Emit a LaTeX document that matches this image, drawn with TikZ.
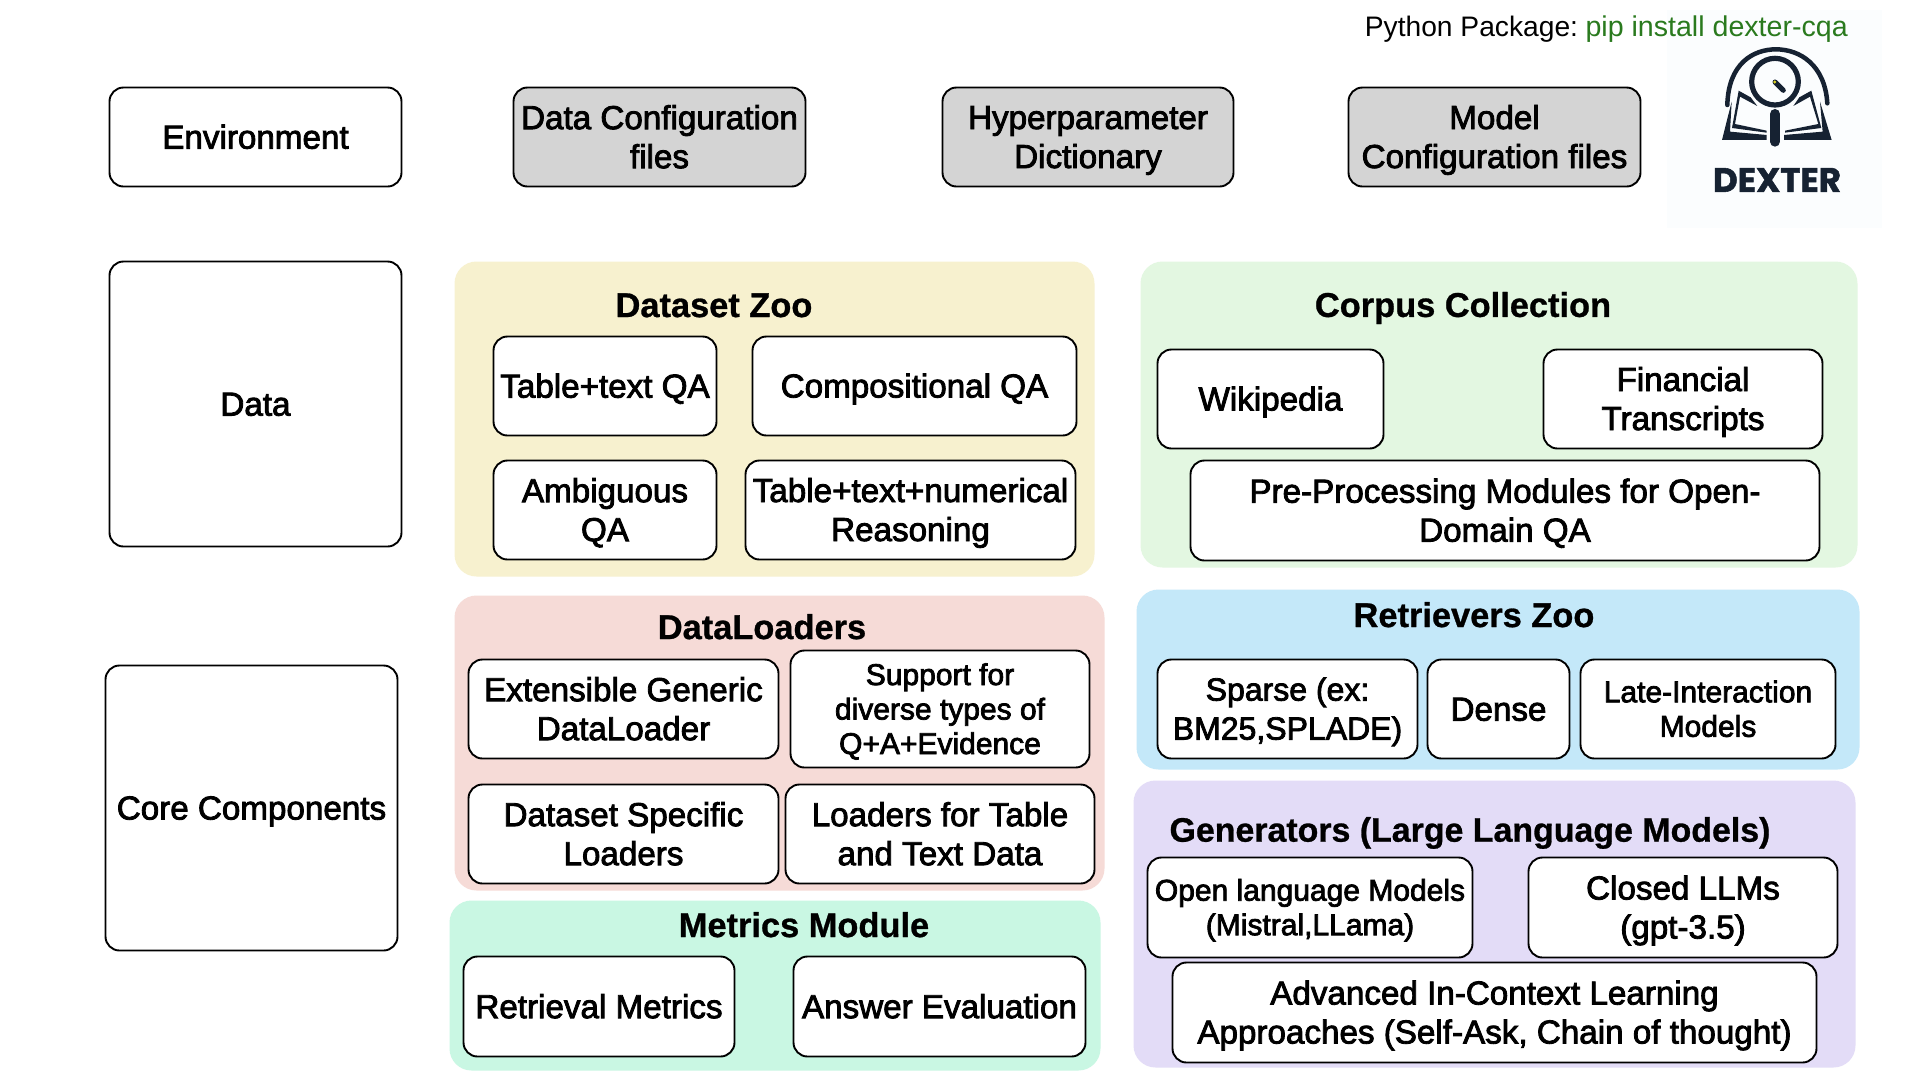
\documentclass[tikz,border=0pt]{standalone}
\usepackage{fontspec}
\setmainfont{Liberation Sans}
\newfontfamily\medf[FakeBold=2.5]{Liberation Sans}
\newfontfamily\titlef[FakeBold=0.8]{Liberation Sans Bold}
\newfontfamily\logof[FakeBold=1.5]{Poppins Bold}
\definecolor{navy}{HTML}{162232}
\definecolor{cyellow}{HTML}{F7F1CF}
\definecolor{cred}{HTML}{F6DBD7}
\definecolor{cgreen}{HTML}{E3F7E1}
\definecolor{cblue}{HTML}{C4E8F9}
\definecolor{cpurple}{HTML}{E3DCF7}
\definecolor{cmint}{HTML}{C9F7E3}
\definecolor{cgrey}{HTML}{D4D4D4}
\definecolor{pipgreen}{HTML}{2A7A1E}
\definecolor{logobg}{HTML}{FBFDFE}
\newcommand{\st}{\rule[-0.2em]{0pt}{1.1em}}
\tikzset{
 boxed/.style={draw=black,line width=1.9pt,rounded corners=14pt,fill=white,align=center,inner sep=0pt,
   font=\medf\fontsize{33.2}{39}\selectfont},
 greybox/.style={boxed,fill=cgrey},
 smallbox/.style={boxed,font=\medf\fontsize{30}{34.5}\selectfont},
 tightbox/.style={boxed,font=\medf\fontsize{32}{39}\selectfont},
 panel/.style={rounded corners=22pt,inner sep=0pt},
 paneltitle/.style={inner sep=0pt,font=\titlef\fontsize{34.4}{39}\selectfont},
}
% name, x1, y1, x2, y2, style, text
\newcommand{\rbox}[7]{%
  \pgfmathsetmacro\cxx{(#2+#4)/2}\pgfmathsetmacro\cyy{(#3+#5)/2}%
  \pgfmathsetmacro\wdd{#4-#2-1}\pgfmathsetmacro\htt{#5-#3-1}%
  \node[#6,minimum width=\wdd pt,minimum height=\htt pt] (#1) at (\cxx,\cyy) {\st #7\st};}
\begin{document}
\begin{tikzpicture}[x=1pt,y=-1pt]
\useasboundingbox (0,0) rectangle (1920,1080);
\fill[white] (0,0) rectangle (1920,1080);
% logo background
\node[fill=logobg,inner sep=0pt,minimum width=215pt,minimum height=218pt] (logobox) at (1774.5,119) {};
% panels
\rbox{pzoo}{454}{261}{1095}{577}{panel,fill=cyellow}{}
\rbox{pcorpus}{1140}{261}{1858}{568}{panel,fill=cgreen}{}
\rbox{ploader}{454}{595}{1105}{891}{panel,fill=cred}{}
\rbox{pret}{1136}{589}{1860}{770}{panel,fill=cblue}{}
\rbox{pgen}{1133}{780}{1856}{1068}{panel,fill=cpurple}{}
\rbox{pmet}{449}{900}{1101}{1071}{panel,fill=cmint}{}
% top row
\rbox{env}{109}{87}{402}{187}{boxed}{Environment}
\rbox{dcf}{513}{87}{806}{187}{greybox}{Data Configuration\\files}
\rbox{hyp}{942}{87}{1234}{187}{greybox}{Hyperparameter\\Dictionary}
\rbox{mcf}{1348}{87}{1641}{187}{greybox}{Model\\Configuration files}
% left
\rbox{data}{109}{261}{402}{547}{boxed}{Data}
\rbox{core}{105}{665}{398}{951}{boxed}{Core Components}
% titles
\node[paneltitle] (tzoo) at (714,305) {\st Dataset Zoo};
\node[paneltitle] (tcorpus) at (1463,305) {\st Corpus Collection};
\node[paneltitle] (tloader) at (762,627) {\st DataLoaders};
\node[paneltitle] (tret) at (1474,615) {\st Retrievers Zoo};
\node[paneltitle,font=\titlef\fontsize{33.9}{39}\selectfont] (tgen) at (1470,830) {\st Generators (Large Language Models)};
\node[paneltitle] (tmet) at (804,925) {\st Metrics Module};
% dataset zoo
\rbox{a1}{493}{336}{717}{436}{boxed}{Table+text QA}
\rbox{a2}{752}{336}{1077}{436}{boxed}{Compositional QA}
\rbox{a3}{493}{460}{717}{560}{boxed}{Ambiguous\\QA}
\rbox{a4}{745}{460}{1076}{560}{boxed}{Table+text+numerical\\Reasoning}
% corpus
\rbox{b1}{1157}{349}{1384}{449}{boxed}{Wikipedia}
\rbox{b2}{1543}{349}{1823}{449}{boxed}{Financial\\Transcripts}
\rbox{b3}{1190}{460}{1820}{561}{boxed}{Pre-Processing Modules for Open-\\Domain QA}
% dataloaders
\rbox{c1}{468}{659}{779}{759}{boxed}{Extensible Generic\\DataLoader}
\rbox{c2}{790}{650}{1090}{768}{smallbox}{Support for\\diverse types of\\Q+A+Evidence}
\rbox{c3}{468}{784}{779}{884}{boxed}{Dataset Specific\\Loaders}
\rbox{c4}{785}{784}{1095}{884}{boxed}{Loaders for Table\\and Text Data}
% retrievers
\rbox{d1}{1157}{659}{1418}{759}{tightbox}{Sparse (ex:\\BM25,SPLADE)}
\rbox{d2}{1427}{659}{1570}{759}{boxed}{Dense}
\rbox{d3}{1580}{659}{1836}{759}{smallbox}{Late-Interaction\\Models}
% generators
\rbox{e1}{1147}{857}{1473}{958}{smallbox}{Open language Models\\(Mistral,LLama)}
\rbox{e2}{1528}{857}{1838}{958}{boxed}{Closed LLMs\\(gpt-3.5)}
\rbox{e3}{1172}{962}{1817}{1063}{boxed}{Advanced In-Context Learning\\Approaches (Self-Ask, Chain of thought)}
% metrics
\rbox{f1}{463}{956}{735}{1057}{boxed}{Retrieval Metrics}
\rbox{f2}{793}{956}{1086}{1057}{boxed}{Answer Evaluation}
% python package
\node[anchor=east,inner sep=0pt,font=\fontsize{28.2}{34}\selectfont] (pkg) at (1848,27) {\st Python Package:\hspace{-3pt} \textcolor{pipgreen}{\fontsize{28.6}{34}\selectfont pip install dexter-cqa}};
% logo
\begin{scope}[shift={(1620,0)},x=0.3333pt,y=-0.3333pt]
 \draw[navy,line width=4.5pt,line cap=round] (322,315) .. controls (325,190) and (400,148) .. (468,148) .. controls (540,148) and (615,195) .. (622,310);
 \draw[navy,line width=5.2pt] (465,245) circle (70);
 \draw[navy,line width=5pt,line cap=round] (465,246) -- (490,271);
 \fill[yellow!85!black] (464,246) circle (5);
 \draw[navy,line width=10pt,line cap=round] (465,342) -- (465,425);
 % pages
 \fill[navy] (356,272) -- (392,292) -- (412,318) -- (360,290) -- (345,372) -- (440,392) -- (440,398) -- (336,384) -- cycle;
 \fill[navy] (574,272) -- (538,292) -- (520,318) -- (570,290) -- (595,372) -- (495,392) -- (495,398) -- (604,384) -- cycle;
 \fill[navy] (335,305) -- (306,420) -- (440,420) -- (440,405) -- (330,395) -- cycle;
 \fill[navy] (600,305) -- (635,420) -- (492,420) -- (492,405) -- (608,395) -- cycle;
\end{scope}
\node[inner sep=0pt,text=navy,font=\logof\fontsize{34}{34}\selectfont] (dexter) at (1777,180) {DEXTER};
\end{tikzpicture}
\end{document}
